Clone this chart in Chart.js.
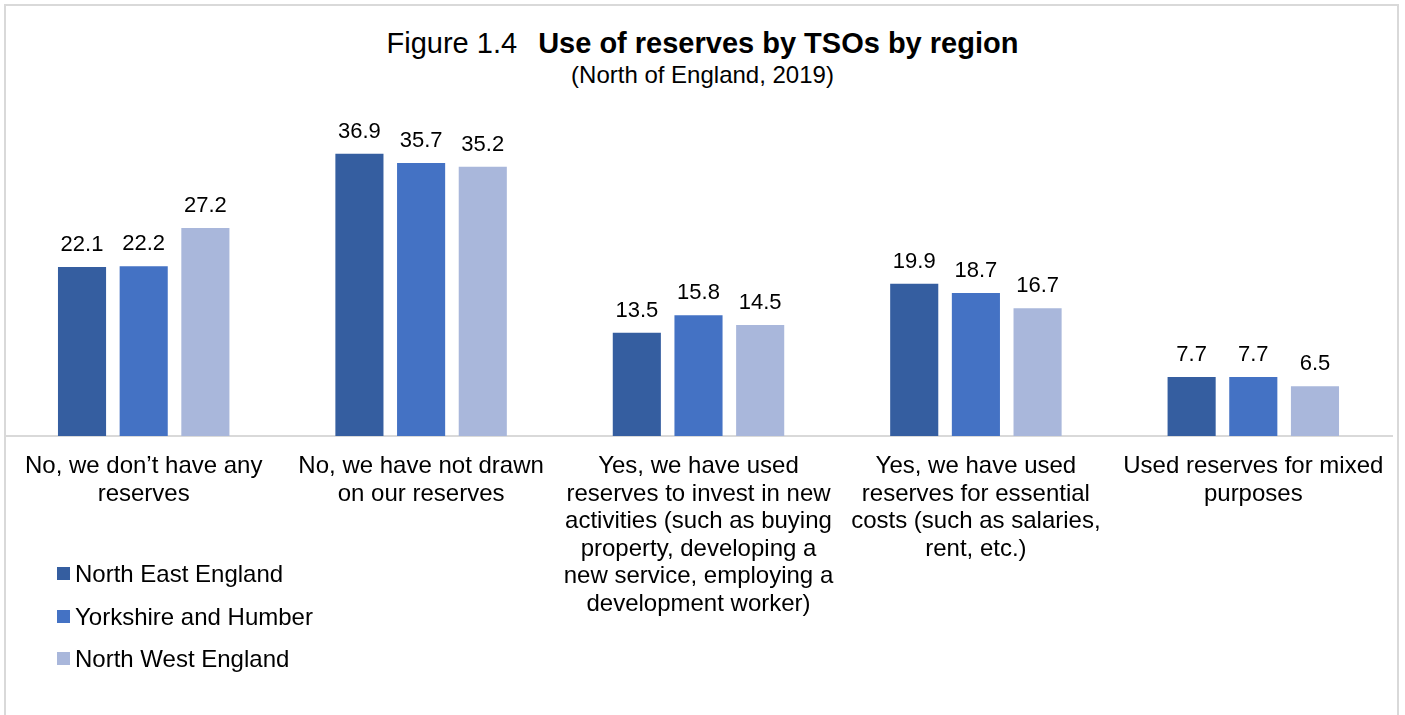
<!DOCTYPE html>
<html>
<head>
<meta charset="utf-8">
<script src="https://cdn.jsdelivr.net/npm/chart.js@4/dist/chart.umd.min.js"></script>
<style>
  body { margin: 0; background: #fff; font-family: "Liberation Sans", Arial, sans-serif; }
  #wrap { position: relative; width: 1405px; height: 715px; overflow: hidden; }
  #frame { position: absolute; left: 4px; top: 4px; width: 1391px; height: 760px; border: 2px solid #d9d9d9; }
  #chart { position: absolute; left: 0; top: 0; }
  #title { position: absolute; left: 0; width: 1405px; top: 27px; text-align: center; font-size: 29px; line-height: 32px; color: #000; }
  #title b { margin-left: 21px; }
  #subtitle { position: absolute; left: 0; width: 1405px; top: 61px; text-align: center; font-size: 24px; line-height: 28px; color: #000; }
  #legend { position: absolute; left: 57px; top: 560px; font-size: 24px; line-height: 28px; color: #000; }
  #legend div { height: 42.5px; display: flex; align-items: flex-start; }
  #legend span.box { width: 13px; height: 13px; margin-top: 7px; margin-right: 5px; display: inline-block; flex: none; }
</style>
</head>
<body>
<div id="wrap">
  <div id="frame"></div>
  <div id="title">Figure 1.4<b>Use of reserves by TSOs by region</b></div>
  <div id="subtitle">(North of England, 2019)</div>
  <canvas id="chart" width="1405" height="715"></canvas>
  <div id="legend"></div>
</div>
<script>
const categories = [
  ["No, we don\u2019t have any", "reserves"],
  ["No, we have not drawn", "on our reserves"],
  ["Yes, we have used", "reserves to invest in new", "activities (such as buying", "property, developing a", "new service, employing a", "development worker)"],
  ["Yes, we have used", "reserves for essential", "costs (such as salaries,", "rent, etc.)"],
  ["Used reserves for mixed", "purposes"]
];
const regions = ["North East England", "Yorkshire and Humber", "North West England"];
const colours = ["#355ea0", "#4472c4", "#a9b7db"];
const northEast = [22.1, 36.9, 13.5, 19.9, 7.7];
const yorkshire = [22.2, 35.7, 15.8, 18.7, 7.7];
const northWest = [27.2, 35.2, 14.5, 16.7, 6.5];

const valueLabels = {
  id: "valueLabels",
  afterDatasetsDraw(chart) {
    const ctx = chart.ctx;
    ctx.save();
    ctx.font = "22px 'Liberation Sans', Arial, sans-serif";
    ctx.fillStyle = "#000";
    ctx.textAlign = "center";
    ctx.textBaseline = "middle";
    chart.data.datasets.forEach((ds, i) => {
      chart.getDatasetMeta(i).data.forEach((bar, j) => {
        ctx.fillText(ds.data[j].toFixed(1), bar.x, bar.y - 22);
      });
    });
    ctx.restore();
  }
};

const chart = new Chart(document.getElementById("chart"), {
  type: "bar",
  data: {
    labels: categories,
    datasets: [northEast, yorkshire, northWest].map((d, i) => ({
      label: regions[i],
      data: d,
      backgroundColor: colours[i],
      categoryPercentage: 0.667,
      barPercentage: 0.78
    }))
  },
  options: {
    responsive: false,
    animation: false,
    layout: { padding: { left: 5, right: 13, top: 130, bottom: 0 } },
    plugins: {
      legend: { display: false },
      tooltip: { enabled: false }
    },
    scales: {
      x: {
        grid: { display: false, drawTicks: false },
        border: { display: true, color: "#d9d9d9", width: 2 },
        ticks: {
          color: "#000",
          padding: 17,
          maxRotation: 0,
          autoSkip: false,
          font: { family: "'Liberation Sans', Arial, sans-serif", size: 24, lineHeight: 1.146 }
        },
        afterFit: (axis) => { axis.height = 279; }
      },
      y: {
        display: false,
        min: 0,
        max: 40
      }
    }
  },
  plugins: [valueLabels]
});

// legend stacked down the left side
const legend = document.getElementById("legend");
chart.data.datasets.forEach(ds => {
  const row = document.createElement("div");
  row.innerHTML = '<span class="box" style="background:' + ds.backgroundColor + '"></span>' + ds.label;
  legend.appendChild(row);
});
</script>
</body>
</html>
